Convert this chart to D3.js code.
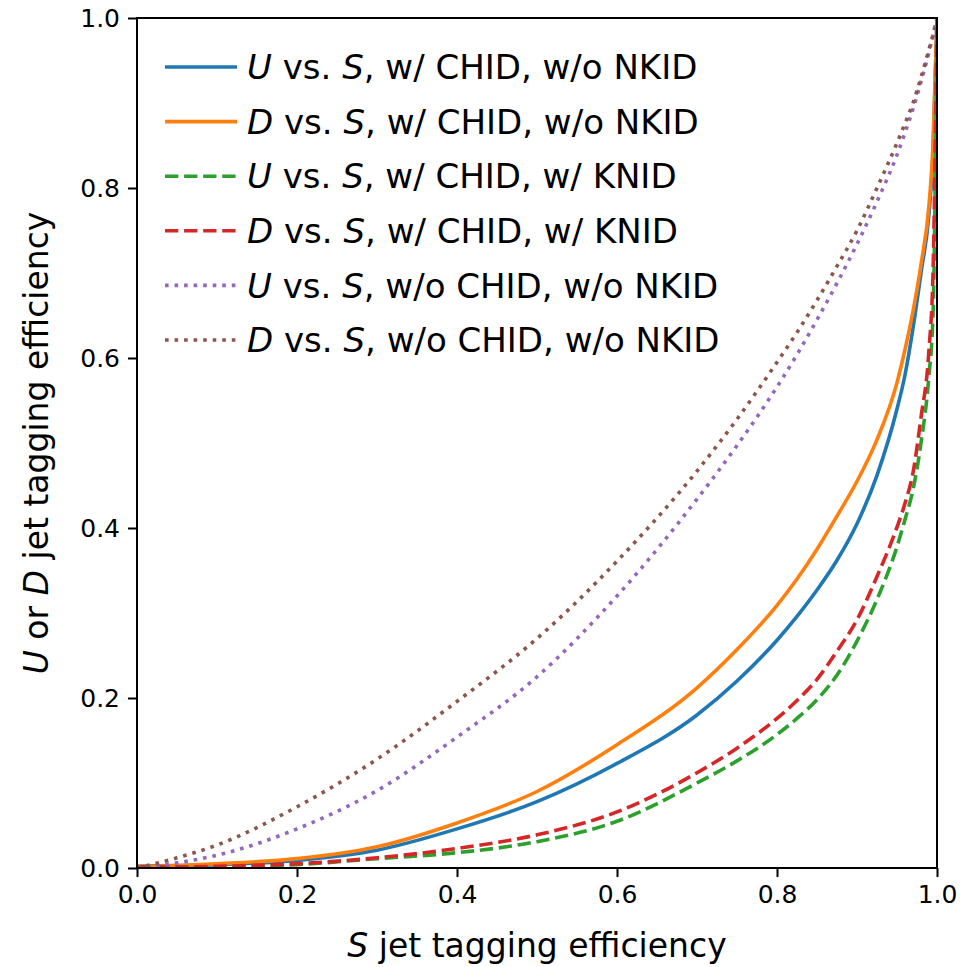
<!DOCTYPE html>
<html>
<head>
<meta charset="utf-8">
<script src="https://cdn.jsdelivr.net/npm/d3@7"></script>
<style>
  body { margin: 0; background: #fff; }
  text { font-family: "DejaVu Sans", sans-serif; fill: #000; }
</style>
</head>
<body>
<script>
// S jet efficiency grid shared by all curves (finer near 1 where curves get steep)
const sEff = [0, 0.05, 0.1, 0.2, 0.3, 0.4, 0.5, 0.6, 0.7, 0.75, 0.8, 0.825, 0.85, 0.875, 0.9, 0.925, 0.95, 0.96, 0.97, 0.98, 0.99, 0.995, 1.0];

const uChidNoNk = [0.002, 0.003, 0.004, 0.009, 0.021, 0.046, 0.078, 0.123, 0.18, 0.22, 0.268, 0.296, 0.327, 0.362, 0.405, 0.462, 0.54, 0.58, 0.635, 0.70, 0.77, 0.84, 1.0];
const dChidNoNk = [0.002, 0.003, 0.005, 0.011, 0.025, 0.053, 0.09, 0.145, 0.212, 0.257, 0.309, 0.34, 0.375, 0.414, 0.455, 0.504, 0.571, 0.61, 0.655, 0.71, 0.78, 0.85, 1.0];
const uChidKn = [0.001, 0.001, 0.0015, 0.004, 0.011, 0.018, 0.031, 0.055, 0.1, 0.126, 0.157, 0.176, 0.198, 0.227, 0.267, 0.316, 0.378, 0.41, 0.445, 0.50, 0.58, 0.65, 1.0];
const dChidKn = [0.001, 0.001, 0.002, 0.005, 0.012, 0.023, 0.039, 0.066, 0.112, 0.141, 0.176, 0.197, 0.222, 0.255, 0.292, 0.343, 0.401, 0.429, 0.465, 0.53, 0.61, 0.70, 1.0];
const uNoChid = [0, 0.006, 0.015, 0.046, 0.091, 0.154, 0.225, 0.32, 0.434, 0.497, 0.566, 0.604, 0.645, 0.688, 0.734, 0.784, 0.839, 0.865, 0.893, 0.925, 0.96, 0.98, 1.0];
const dNoChid = [0, 0.012, 0.027, 0.072, 0.128, 0.196, 0.27, 0.361, 0.467, 0.528, 0.595, 0.63, 0.668, 0.708, 0.75, 0.8, 0.853, 0.876, 0.9, 0.93, 0.963, 0.98, 1.0];

const labels = [
  "$U$ vs. $S$, w/ CHID, w/o NKID",
  "$D$ vs. $S$, w/ CHID, w/o NKID",
  "$U$ vs. $S$, w/ CHID, w/ KNID",
  "$D$ vs. $S$, w/ CHID, w/ KNID",
  "$U$ vs. $S$, w/o CHID, w/o NKID",
  "$D$ vs. $S$, w/o CHID, w/o NKID"
];
const ticks = [0, 0.2, 0.4, 0.6, 0.8, 1.0];

const lw = 3.6;
const colors = ['#1f77b4', '#ff7f0e', '#2ca02c', '#d62728', '#9467bd', '#8c564b'];
const dashes = [null, null, `${3.7 * lw},${1.6 * lw}`, `${3.7 * lw},${1.6 * lw}`, `${lw},${1.65 * lw}`, `${lw},${1.65 * lw}`];
const seriesY = [uChidNoNk, dChidNoNk, uChidKn, dChidKn, uNoChid, dNoChid];

const width = 974, height = 967;
const margin = {left: 137, top: 18, right: 37, bottom: 99};

const svg = d3.select('body').append('svg')
  .attr('width', width)
  .attr('height', height);

const x = d3.scaleLinear().domain([0, 1]).range([margin.left, width - margin.right]);
const y = d3.scaleLinear().domain([0, 1]).range([height - margin.bottom, margin.top]);

// writes "$X$ text" strings with the $..$ parts in italics
function addRich(sel, str) {
  str.split('$').forEach((part, i) => {
    if (part === '') return;
    sel.append('tspan').attr('font-style', i % 2 ? 'italic' : 'normal').text(part);
  });
}

svg.append('clipPath').attr('id', 'clip')
  .append('rect')
  .attr('x', x(0)).attr('y', y(1))
  .attr('width', x(1) - x(0)).attr('height', y(0) - y(1));

const line = d3.line()
  .x(d => x(d[0]))
  .y(d => y(d[1]))
  .curve(d3.curveMonotoneX);

seriesY.forEach((vals, i) => {
  svg.append('path')
    .datum(sEff.map((s, j) => [s, vals[j]]))
    .attr('clip-path', 'url(#clip)')
    .attr('fill', 'none')
    .attr('stroke', colors[i])
    .attr('stroke-width', lw)
    .attr('stroke-dasharray', dashes[i])
    .attr('d', line);
});

// axes
const xAxis = svg.append('g')
  .attr('transform', `translate(0,${y(0)})`)
  .call(d3.axisBottom(x).tickValues(ticks).tickFormat(d3.format('.1f')).tickSize(9).tickPadding(8));
const yAxis = svg.append('g')
  .attr('transform', `translate(${x(0)},0)`)
  .call(d3.axisLeft(y).tickValues(ticks).tickFormat(d3.format('.1f')).tickSize(9).tickPadding(8));

[xAxis, yAxis].forEach(g => {
  g.select('.domain').remove();
  g.selectAll('line').attr('stroke', '#000').attr('stroke-width', 2);
  g.selectAll('text').attr('font-size', 25).attr('font-family', '"DejaVu Sans"').attr('fill', '#000');
});

svg.append('rect')
  .attr('x', x(0)).attr('y', y(1))
  .attr('width', x(1) - x(0)).attr('height', y(0) - y(1))
  .attr('fill', 'none')
  .attr('stroke', '#000')
  .attr('stroke-width', 2);

// axis labels
const xl = svg.append('text')
  .attr('x', (x(0) + x(1)) / 2)
  .attr('y', 957)
  .attr('text-anchor', 'middle')
  .attr('font-size', 33);
addRich(xl, '$S$ jet tagging efficiency');

const yl = svg.append('text')
  .attr('transform', `translate(48,${(y(0) + y(1)) / 2}) rotate(-90)`)
  .attr('text-anchor', 'middle')
  .attr('font-size', 33);
addRich(yl, '$U$ or $D$ jet tagging efficiency');

// legend
const legend = svg.append('g');
labels.forEach((lab, i) => {
  const ly = 67 + i * 54.6;
  legend.append('line')
    .attr('x1', 165).attr('x2', 237)
    .attr('y1', ly).attr('y2', ly)
    .attr('stroke', colors[i])
    .attr('stroke-width', lw)
    .attr('stroke-dasharray', dashes[i]);
  const t = legend.append('text')
    .attr('x', 247)
    .attr('y', ly)
    .attr('dy', '0.36em')
    .attr('font-size', 34);
  addRich(t, lab);
});
</script>
</body>
</html>
